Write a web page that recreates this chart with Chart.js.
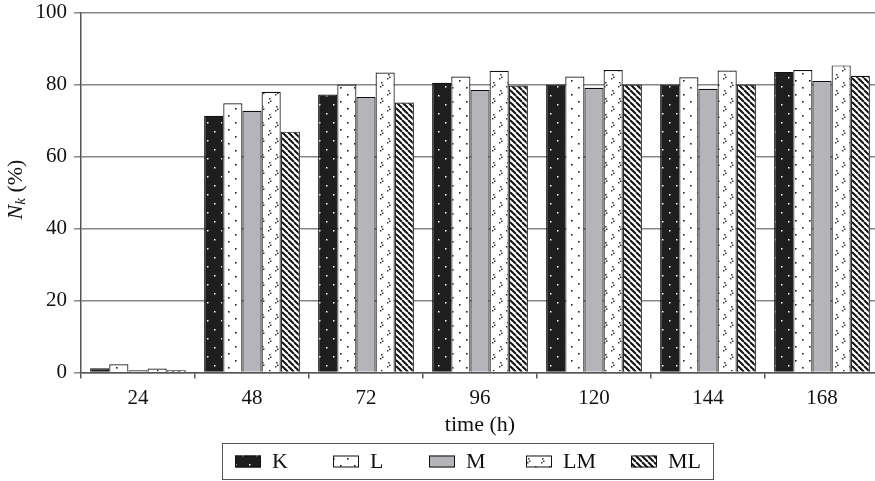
<!DOCTYPE html>
<html><head><meta charset="utf-8">
<script src="https://cdn.jsdelivr.net/npm/chart.js@4"></script>
<style>
html,body{margin:0;padding:0;overflow:hidden;background:#fff;width:875px;height:481px}
#wrap{width:890px;height:481px;position:relative}
#fontprobe{position:absolute;left:-999px;top:0;font-family:"Liberation Serif";font-size:21px}
</style>
</head><body><div id="fontprobe">time N k 0123456789 <i>N k</i></div><div id="wrap"><canvas id="c" width="890" height="481" style="width:890px;height:481px"></canvas></div>
<script>
const categories = ['24','48','72','96','120','144','168'];
const seriesK  = [1.2, 71.3, 77.2, 80.5, 80.0, 80.0, 83.5];
const seriesL  = [2.3, 74.8, 80.0, 82.2, 82.2, 82.0, 84.0];
const seriesM  = [0.6, 72.7, 76.5, 78.5, 79.1, 78.8, 81.0];
const seriesLM = [1.1, 78.0, 83.3, 83.8, 84.0, 83.9, 85.3];
const seriesML = [0.6, 66.9, 75.0, 79.7, 80.0, 80.0, 82.4];
const seriesNames = ['K','L','M','LM','ML'];
const yTicks = [0,20,40,60,80,100];
const xTitle = 'time (h)';

const SERIF = '"Liberation Serif", "Times New Roman", Times, serif';

function makePattern(kind){
  const c = document.createElement('canvas');
  const x = c.getContext('2d');
  if (kind === 'K'){
    c.width = 14; c.height = 18;
    x.fillStyle = '#1e1e1e'; x.fillRect(0,0,14,18);
    x.fillStyle = '#ffffff';
    x.fillRect(4,5,1.5,1.5); x.fillRect(11,14,1.5,1.5);
  } else if (kind === 'L'){
    c.width = 14; c.height = 14;
    x.fillStyle = '#ffffff'; x.fillRect(0,0,14,14);
    x.fillStyle = '#222';
    x.fillRect(4,3,1.6,1.6); x.fillRect(11,10,1.6,1.6);
  } else if (kind === 'M'){
    return '#b5b5b9';
  } else if (kind === 'LM'){
    c.width = 14; c.height = 16;
    x.fillStyle = '#ffffff'; x.fillRect(0,0,14,16);
    x.fillStyle = '#333';
    [[3,2],[4,4.5],[2,6],[10,10],[11,12.5],[9,14]].forEach(p=>x.fillRect(p[0],p[1],1.5,1.5));
  } else if (kind === 'ML'){
    c.width = 6; c.height = 6;
    x.fillStyle = '#ffffff'; x.fillRect(0,0,6,6);
    x.strokeStyle = '#111'; x.lineWidth = 2;
    x.beginPath();
    [-6,0,6].forEach(o=>{ x.moveTo(o,0); x.lineTo(o+6,6); });
    x.stroke();
  }
  return x.createPattern(c,'repeat');
}

const seriesValues = [seriesK, seriesL, seriesM, seriesLM, seriesML];
const fills = seriesNames.map(makePattern);

const datasets = seriesNames.map((name,i)=>({
  label: name,
  data: seriesValues[i],
  backgroundColor: fills[i],
  borderColor: '#111',
  borderWidth: 1.2,
  borderSkipped: 'start',
  barPercentage: 1.0,
  categoryPercentage: 0.84
}));

const decor = {
  id: 'decor',
  afterDraw(chart){
    const ctx = chart.ctx, a = chart.chartArea;
    ctx.save();
    ctx.translate(22, (a.top + a.bottom)/2 - 3);
    ctx.rotate(-Math.PI/2);
    ctx.fillStyle = '#111';
    ctx.textBaseline = 'alphabetic';
    const fN = 'italic 22px ' + SERIF, fk = 'italic 15px ' + SERIF, fR = '22px ' + SERIF;
    ctx.font = fN; const wN = ctx.measureText('N').width;
    ctx.font = fk; const wk = ctx.measureText('k').width;
    ctx.font = fR; const wR = ctx.measureText(' (%)').width;
    let x0 = -(wN + wk + wR)/2;
    ctx.font = fN; ctx.fillText('N', x0, 0); x0 += wN;
    ctx.font = fk; ctx.fillText('k', x0, 3); x0 += wk;
    ctx.font = fR; ctx.fillText(' (%)', x0, 0);
    ctx.restore();

    ctx.save();
    const L = 222.5, R = 713.5, T = 443.5, B = 479.5;
    ctx.strokeStyle = '#555'; ctx.lineWidth = 1;
    ctx.strokeRect(L, T, R - L, B - T);
    const starts = [235, 333, 429, 526, 631];
    const cy = (T + B)/2;
    ctx.font = '22px ' + SERIF;
    ctx.textBaseline = 'middle';
    seriesNames.forEach((name,i)=>{
      const sx = starts[i];
      ctx.fillStyle = fills[i];
      ctx.fillRect(sx, cy - 6, 26, 12);
      ctx.strokeStyle = '#111'; ctx.lineWidth = 1;
      ctx.strokeRect(sx + 0.5, cy - 5.5, 25, 11);
      ctx.fillStyle = '#111';
      ctx.fillText(name, sx + 37, cy + 1);
    });
    ctx.restore();
  }
};

function build(){
  new Chart(document.getElementById('c'), {
    type: 'bar',
    data: { labels: categories, datasets },
    options: {
      responsive: false,
      animation: false,
      devicePixelRatio: 1,
      layout: { autoPadding: false, padding: { top: 12.5, right: 11, bottom: 42.5, left: 0 } },
      plugins: { legend: { display: false }, tooltip: { enabled: false } },
      scales: {
        x: {
          offset: true,
          grid: { offset: true, drawOnChartArea: false, drawTicks: true, tickLength: 6, color: '#555', lineWidth: 1.5 },
          border: { display: true, color: '#555', width: 1.5 },
          ticks: { font: { family: SERIF, size: 21 }, color: '#111', padding: 7, maxRotation: 0 },
          title: { display: true, text: xTitle, font: { family: SERIF, size: 22 }, color: '#111', padding: { top: 0, bottom: 0 } },
          afterFit(s){ s.height = 66; s.paddingLeft = 0; s.paddingRight = 0; }
        },
        y: {
          min: 0, max: 100,
          afterBuildTicks(s){ s.ticks = yTicks.map(v => ({ value: v })); },
          grid: { color: '#858585', lineWidth: 1.5, tickLength: 7, drawTicks: true },
          border: { display: true, color: '#555', width: 1.5 },
          ticks: { font: { family: SERIF, size: 21 }, color: '#111', padding: 7 },
          afterFit(s){ s.width = 81; s.paddingTop = 0; s.paddingBottom = 0; }
        }
      }
    },
    plugins: [decor]
  });
}
Promise.all([
  document.fonts.load('21px "Liberation Serif"'),
  document.fonts.load('italic 22px "Liberation Serif"')
]).then(build, build);
</script>
</body></html>
